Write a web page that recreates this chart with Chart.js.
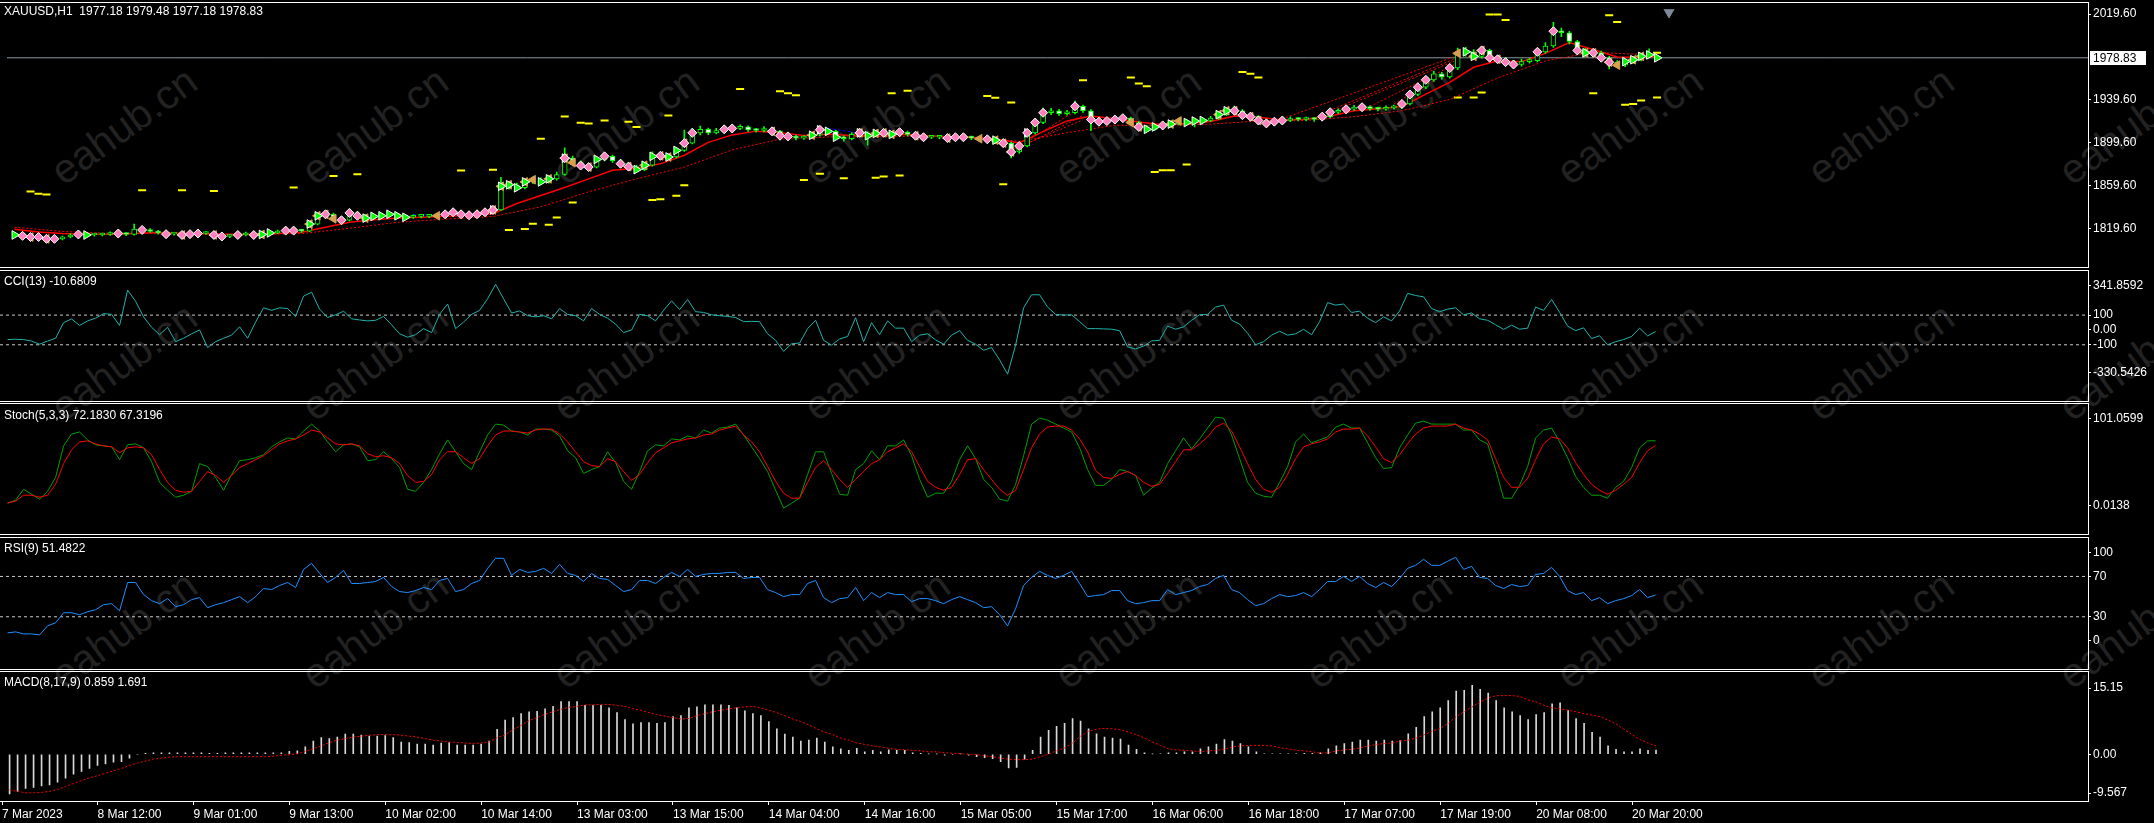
<!DOCTYPE html>
<html>
<head>
<meta charset="utf-8">
<title>XAUUSD,H1</title>
<script src="https://cdn.jsdelivr.net/npm/chart.js@4.4.1/dist/chart.umd.min.js"></script>
<style>
    html, body { margin: 0; padding: 0; background: #000; overflow: hidden; }
    #wrap { position: relative; width: 2154px; height: 823px; background: #000; font-family: "Liberation Sans", Arial, sans-serif; }
    #marks { position: absolute; left: 0; top: 0; width: 2154px; height: 823px; overflow: hidden; z-index: 0; }
    .mark { position: absolute; color: #222222; font-size: 41px; white-space: nowrap; transform: translate(-50%, -50%) rotate(-36deg); }
    canvas { position: absolute; left: 0; z-index: 1; }
    .frame { position: absolute; left: -1px; width: 2090px; border: 1px solid #fff; box-sizing: border-box; pointer-events: none; z-index: 2; }
    .title { position: absolute; left: 4px; color: #fff; font-size: 12px; line-height: 14px; white-space: pre; z-index: 3; }
</style>
</head>
<body>
<div id="wrap">
    <div id="marks"></div>

    <canvas id="main" width="2154" height="267" style="top:0px"></canvas>
    <canvas id="cci" width="2154" height="131" style="top:270px"></canvas>
    <canvas id="stoch" width="2154" height="131" style="top:403px"></canvas>
    <canvas id="rsi" width="2154" height="132" style="top:537px"></canvas>
    <canvas id="macd" width="2154" height="152" style="top:671px"></canvas>

    <div class="frame" style="top:2px;height:266px"></div>
    <div class="frame" style="top:270px;height:132px"></div>
    <div class="frame" style="top:403px;height:132px"></div>
    <div class="frame" style="top:537px;height:133px"></div>
    <div class="frame" style="top:671px;height:131px"></div>

    <div class="title" id="t-main" style="top:4px"></div>
    <div class="title" id="t-cci" style="top:274px"></div>
    <div class="title" id="t-stoch" style="top:408px"></div>
    <div class="title" id="t-rsi" style="top:541px"></div>
    <div class="title" id="t-macd" style="top:675px"></div>
</div>

<script>
// ---- datos (barra 0 = primera vela visible) ----
const opens = [1814.5,1813.7,1812.9,1811.8,1811.8,1810.1,1810.1,1811.8,1813.7,1814.2,
    1813.7,1813.7,1814.2,1815.1,1815.1,1814.2,1819.2,1818.4,1817.0,1815.6,
    1814.5,1815.1,1813.7,1814.5,1815.1,1815.6,1813.7,1812.3,1812.9,1813.7,
    1815.1,1813.7,1814.2,1815.6,1817.0,1817.8,1817.8,1817.3,1823.9,1831.6,
    1833.0,1828.8,1827.5,1834.3,1831.6,1829.4,1831.0,1831.6,1833.0,1831.6,
    1830.2,1831.0,1831.0,1831.6,1831.6,1833.0,1834.9,1833.0,1832.1,1833.0,
    1834.9,1837.1,1859.1,1860.5,1857.7,1863.2,1865.2,1863.2,1866.0,1870.1,
    1885.3,1881.1,1878.4,1877.0,1884.2,1887.0,1882.9,1880.1,1877.4,1874.6,
    1878.7,1887.0,1887.5,1886.4,1892.5,1899.3,1908.9,1912.2,1908.9,1911.1,
    1912.2,1913.0,1914.4,1911.7,1911.1,1912.2,1910.3,1906.2,1905.6,1904.0,
    1904.8,1906.7,1911.7,1910.3,1904.8,1903.4,1907.5,1908.9,1906.2,1908.4,
    1908.9,1907.5,1909.5,1907.5,1906.2,1904.8,1904.8,1904.8,1904.0,1904.8,
    1904.8,1904.0,1903.4,1902.9,1902.1,1899.3,1891.1,1896.6,1908.9,1918.5,
    1927.6,1929.5,1926.7,1927.6,1933.6,1929.5,1921.3,1919.3,1919.9,1921.3,
    1922.6,1918.5,1914.4,1912.2,1914.4,1915.8,1917.1,1919.9,1918.5,1919.9,
    1920.4,1922.6,1925.9,1929.5,1929.5,1925.4,1924.0,1920.4,1917.7,1919.3,
    1920.4,1922.1,1921.3,1922.1,1921.3,1924.0,1928.1,1929.5,1930.9,1932.8,
    1932.8,1931.4,1930.9,1932.2,1932.8,1935.8,1944.6,1951.4,1958.3,1963.8,
    1961.0,1969.3,1983.0,1984.4,1980.2,1985.7,1978.9,1977.5,1974.8,1972.6,
    1975.3,1976.1,1984.4,1989.8,2003.6,2002.2,1994.0,1985.7,1983.5,1983.5,
    1978.9,1974.8,1972.0,1975.3,1977.0,1980.2,1977.18];

const highs = [1815.8,1814.8,1813.9,1813.2,1812.9,1811.7,1812.8,1815.0,1815.6,1815.3,
    1815.0,1815.5,1816.6,1816.4,1816.0,1823.9,1820.8,1819.6,1818.1,1816.8,
    1816.3,1816.2,1815.6,1816.4,1817.0,1816.5,1814.6,1814.0,1814.9,1816.4,
    1816.0,1815.5,1816.8,1818.2,1819.0,1819.3,1818.9,1825.8,1834.5,1835.8,
    1834.2,1830.3,1837.9,1835.5,1832.7,1832.6,1833.2,1834.6,1834.1,1832.5,
    1832.4,1832.5,1833.0,1833.1,1834.4,1836.3,1835.8,1834.2,1834.5,1836.4,
    1838.6,1867.4,1863.3,1862.2,1865.5,1867.6,1866.9,1868.3,1872.4,1894.9,
    1887.2,1882.8,1880.0,1886.0,1890.5,1888.2,1884.3,1881.5,1878.6,1880.5,
    1891.2,1889.6,1889.1,1895.1,1911.5,1913.2,1915.3,1913.4,1913.0,1914.1,
    1915.2,1916.3,1915.5,1913.2,1914.8,1913.4,1911.3,1907.6,1906.9,1906.3,
    1908.6,1914.4,1913.1,1911.2,1906.1,1909.1,1912.6,1909.8,1910.3,1911.0,
    1910.2,1911.6,1910.6,1908.7,1907.4,1906.3,1906.1,1906.0,1906.2,1906.4,
    1906.0,1905.3,1904.8,1904.3,1903.2,1900.4,1898.2,1910.7,1920.5,1932.0,
    1931.7,1930.9,1929.8,1938.5,1934.8,1930.6,1922.8,1921.6,1923.1,1924.7,
    1923.7,1919.6,1915.7,1916.0,1917.6,1919.0,1922.6,1921.3,1921.7,1922.3,
    1924.3,1927.6,1931.4,1933.8,1930.6,1926.7,1925.1,1921.8,1920.9,1922.1,
    1923.8,1923.4,1923.6,1923.2,1925.7,1930.2,1931.3,1932.6,1934.5,1934.6,
    1934.0,1932.9,1934.1,1934.7,1937.9,1946.8,1953.5,1960.9,1966.5,1965.2,
    1971.6,1987.9,1988.5,1986.6,1989.2,1987.0,1980.6,1979.0,1976.4,1977.6,
    1978.3,1986.1,1993.1,2011.8,2006.5,2003.4,1995.2,1987.6,1986.2,1985.0,
    1980.1,1976.2,1977.4,1979.2,1982.6,1987.3,1979.48];

const lows = [1812.6,1811.9,1810.6,1810.4,1808.7,1808.9,1809.2,1811.0,1812.8,1812.6,
    1812.5,1812.9,1813.4,1813.9,1813.0,1813.6,1816.9,1816.0,1814.5,1813.4,
    1813.5,1812.6,1812.8,1813.6,1814.2,1812.4,1811.0,1811.2,1812.0,1812.9,
    1812.6,1812.7,1813.5,1814.9,1816.2,1816.5,1816.0,1816.8,1823.0,1829.9,
    1827.4,1825.9,1826.8,1830.2,1828.0,1828.3,1829.8,1830.5,1830.2,1828.6,
    1829.1,1829.6,1829.9,1830.2,1830.8,1832.1,1831.9,1830.9,1831.2,1832.3,
    1833.8,1836.5,1856.4,1855.3,1856.6,1861.8,1861.5,1862.0,1864.9,1869.3,
    1879.6,1876.9,1875.2,1876.1,1882.8,1881.4,1878.6,1875.9,1872.9,1873.7,
    1877.8,1885.4,1884.7,1885.5,1891.6,1898.5,1906.9,1907.1,1907.8,1909.9,
    1910.8,1911.9,1910.2,1909.6,1909.8,1908.9,1904.6,1903.9,1902.4,1902.7,
    1903.5,1905.9,1908.4,1902.6,1901.2,1902.3,1906.2,1897.5,1905.1,1906.8,
    1906.0,1906.4,1906.1,1904.8,1903.3,1903.4,1903.2,1902.6,1902.9,1903.3,
    1902.5,1901.9,1901.3,1900.6,1897.6,1885.6,1889.8,1895.7,1907.6,1917.4,
    1925.8,1925.1,1925.3,1926.6,1927.9,1911.0,1917.7,1918.0,1918.6,1919.9,
    1916.9,1912.8,1910.6,1911.1,1913.2,1914.5,1916.2,1916.9,1914.4,1918.6,
    1919.2,1921.5,1924.8,1927.6,1923.9,1922.3,1918.7,1915.2,1916.4,1918.0,
    1919.2,1919.9,1920.0,1919.6,1920.2,1923.1,1926.9,1928.2,1929.8,1931.2,
    1929.9,1929.4,1929.8,1930.9,1931.7,1934.9,1943.2,1950.0,1956.9,1959.0,
    1959.8,1967.8,1980.3,1977.8,1978.6,1976.7,1975.2,1972.5,1970.4,1971.1,
    1973.8,1975.0,1983.2,1988.5,1998.6,1991.8,1983.6,1980.3,1981.0,1976.5,
    1968.5,1969.8,1970.6,1973.9,1975.9,1978.8,1977.18];

const closes = [1813.7,1812.9,1811.8,1811.8,1810.1,1810.1,1811.8,1813.7,1814.2,1813.7,
    1813.7,1814.2,1815.1,1815.1,1814.2,1819.2,1818.4,1817.0,1815.6,1814.5,
    1815.1,1813.7,1814.5,1815.1,1815.6,1813.7,1812.3,1812.9,1813.7,1815.1,
    1813.7,1814.2,1815.6,1817.0,1817.8,1817.8,1817.3,1823.9,1831.6,1833.0,
    1828.8,1827.5,1834.3,1831.6,1829.4,1831.0,1831.6,1833.0,1831.6,1830.2,
    1831.0,1831.0,1831.6,1831.6,1833.0,1834.9,1833.0,1832.1,1833.0,1834.9,
    1837.1,1859.1,1860.5,1857.7,1863.2,1865.2,1863.2,1866.0,1870.1,1885.3,
    1881.1,1878.4,1877.0,1884.2,1887.0,1882.9,1880.1,1877.4,1874.6,1878.7,
    1887.0,1887.5,1886.4,1892.5,1899.3,1908.9,1912.2,1908.9,1911.1,1912.2,
    1913.0,1914.4,1911.7,1911.1,1912.2,1910.3,1906.2,1905.6,1904.0,1904.8,
    1906.7,1911.7,1910.3,1904.8,1903.4,1907.5,1908.9,1906.2,1908.4,1908.9,
    1907.5,1909.5,1907.5,1906.2,1904.8,1904.8,1904.8,1904.0,1904.8,1904.8,
    1904.0,1903.4,1902.9,1902.1,1899.3,1891.1,1896.6,1908.9,1918.5,1927.6,
    1929.5,1926.7,1927.6,1933.6,1929.5,1921.3,1919.3,1919.9,1921.3,1922.6,
    1918.5,1914.4,1912.2,1914.4,1915.8,1917.1,1919.9,1918.5,1919.9,1920.4,
    1922.6,1925.9,1929.5,1929.5,1925.4,1924.0,1920.4,1917.7,1919.3,1920.4,
    1922.1,1921.3,1922.1,1921.3,1924.0,1928.1,1929.5,1930.9,1932.8,1932.8,
    1931.4,1930.9,1932.2,1932.8,1935.8,1944.6,1951.4,1958.3,1963.8,1961.0,
    1969.3,1983.0,1984.4,1980.2,1985.7,1978.9,1977.5,1974.8,1972.6,1975.3,
    1976.1,1984.4,1989.8,2003.6,2002.2,1994.0,1985.7,1983.5,1983.5,1978.9,
    1974.8,1972.0,1975.3,1977.0,1980.2,1981.5,1978.83];

// medias moviles (muestras [barra, precio])
const maFast = [[0,1819],[3,1816.5],[6,1815],[9,1814.5],[12,1814.3],[15,1815.2],[18,1816],[21,1815.3],
    [24,1814.8],[27,1814.2],[30,1814.2],[33,1815],[36,1816.2],[39,1821],[42,1825.5],[45,1828],
    [48,1829.6],[51,1830.3],[54,1831.2],[57,1832.2],[60,1833.6],[63,1843],[66,1850.5],[69,1858],
    [72,1866],[75,1874],[78,1876],[81,1880],[84,1888],[87,1900],[90,1907],[93,1910.5],
    [96,1909],[99,1906.5],[102,1907.5],[105,1906.5],[108,1907],[111,1907.6],[114,1906.5],[117,1905.2],
    [120,1904.6],[123,1903.4],[126,1899.5],[129,1910],[132,1920],[135,1924.5],[138,1922],[141,1919],
    [144,1916.5],[147,1917.5],[150,1919.5],[153,1924.5],[156,1923.5],[159,1920.8],[162,1921.5],[165,1924.5],
    [168,1929.5],[171,1931.3],[174,1933.5],[177,1945],[180,1956],[183,1970],[186,1976],[189,1975.2],
    [192,1983],[195,1993],[198,1986.5],[201,1979.5],[204,1979.2],[206,1980]];
const maSlow = [[0,1821],[6,1817],[12,1815.2],[18,1815.3],[24,1815],[30,1814.5],[36,1815],[42,1820],
    [48,1825.5],[54,1828.5],[60,1831],[66,1840],[72,1854],[78,1866],[84,1877],[90,1893],
    [96,1903],[102,1905],[108,1905.5],[114,1906],[120,1905],[126,1901],[132,1909],[138,1916],
    [144,1916],[150,1917],[156,1920],[162,1920.5],[168,1924],[174,1929.5],[180,1940],[186,1960],
    [192,1976],[198,1984],[204,1982],[206,1981.5]];

// lineas de tendencia punteadas [barra1, precio1, barra2, precio2]
const fanLines = [[159,1922,181,1981],[164,1926.8,181,1979],[166,1930.9,181,1977],[170,1933.6,181,1974],
    [173,1935.8,181,1971],[125,1892,133,1929],[126,1895,134,1925],[127,1899,134,1921]];
const blueDash = [[[50,1832.6],[53,1832.2],[56,1833.4]], [[102,1913.2],[104,1910.8],[106,1908.6]]];

// niveles amarillos [barra, precio]
const yellowLevels = [[2,1854.2],[3,1852.2],[4,1851.4],[16,1855.5],[21,1855.5],[25,1854.7],[35,1858],
    [40,1868.7],[43,1870.4],[56,1873.7],[60,1874.5],[66,1903.4],[69,1924.1],[71,1918.3],[72,1917.5],
    [74,1920.5],[62,1818.4],[64,1819.2],[65,1824.2],[67,1823.3],[68,1829.9],[70,1844],
    [77,1919.3],[78,1914.4],[82,1925.1],[91,1949.8],[96,1947.6],[97,1945.7],[98,1944],[110,1945.7],
    [112,1948.1],[122,1943.2],[123,1941.6],[125,1937.2],[134,1958],[140,1960.5],[141,1955],[142,1952.3],
    [80,1846.4],[81,1846.9],[83,1850.2],[84,1860.1],[99,1865],[101,1870.8],[104,1866.7],[108,1867],
    [109,1868.3],[111,1869.1],[124,1860.9],[143,1872.4],[144,1874.1],[145,1874.1],[147,1879.3],
    [154,1965.7],[155,1964],[156,1960.5],[185,2019.2],[186,2019.2],[187,2014],[200,2018.4],[201,2012.3],
    [206,1983.5],[181,1941.8],[183,1941.8],[184,1946.5],[198,1945.7],[202,1935],[203,1935.8],
    [204,1939.1],[206,1941.8]];

// barras con flechas / senales
const pinkBars = [1,2,3,4,5,8,13,16,19,21,22,23,25,26,28,30,34,35,39,41,42,43,54,55,56,57,58,59,60,69,
    71,72,74,76,77,81,84,85,89,90,95,96,97,101,106,109,111,113,114,117,118,119,122,124,125,126,127,
    128,129,133,135,136,137,138,139,141,144,153,154,155,156,157,158,159,164,165,167,169,174,175,176,
    177,180,184,185,186,187,188,191,193,196,198,199,200];
const orangeBars = [2,4,21,25,31,37,38,39,40,44,53,60,61,62,64,65,67,69,70,72,77,79,81,82,84,95,100,
    106,108,109,110,113,117,121,123,124,125,140,141,145,146,151,152,153,155,156,181,183,184,186,197,
    198,200,201,203,204];
const greenBars = [0,9,31,32,37,38,44,45,46,47,48,49,60,61,62,63,64,66,67,69,73,78,79,80,82,83,100,101,
    102,103,106,107,108,110,123,127,142,143,145,147,148,149,151,152,182,183,197,202,203,204,205,206];
const shiftMark = [207.5, 2021.6];

const cci = [-65,-63,-65,-75,-96,-75,-56,49,74,30,
    61,79,110,105,30,268,193,88,18,-32,
    18,-79,-56,-26,0,-119,-79,-56,-35,21,
    -56,53,149,132,149,144,91,228,254,140,
    84,102,126,75,67,61,65,91,35,-26,
    -49,-32,9,-18,105,175,9,53,105,132,
    210,307,210,114,128,96,88,96,75,144,
    105,96,61,144,105,79,39,-18,0,105,
    96,61,132,196,137,205,123,118,102,96,
    91,84,56,58,56,-26,-70,-144,-93,-88,
    9,65,-70,-102,-61,-44,82,-79,49,-32,
    61,12,12,-79,-35,-26,-67,-96,-35,-5,
    -70,-96,-137,-119,-202,-298,-102,149,237,237,
    154,105,100,102,56,9,9,7,5,-5,
    -114,-128,-109,-74,-70,26,5,21,65,102,
    105,154,167,65,40,-23,-100,-79,-35,-9,
    -35,-26,4,-32,56,184,167,175,118,126,
    79,49,88,61,128,246,232,223,144,123,
    140,149,102,114,75,65,35,4,32,5,
    12,154,132,205,119,26,-5,14,-58,-39,
    -100,-79,-65,-44,12,-40,-10.6809];
const cciLevels = [100, -100];

const stochMain = [9,12,23,18,13,21,35,67,79,81,
    73,68,67,66,53,68,69,65,51,30,
    22,15,17,21,49,46,35,22,38,52,
    53,55,58,66,71,75,74,82,89,82,
    71,61,68,69,66,52,53,61,54,45,
    23,21,30,43,59,73,61,49,43,61,
    78,89,88,82,81,78,84,84,83,77,
    62,55,39,43,46,61,50,31,23,41,
    62,68,67,74,73,77,75,83,80,85,
    86,89,78,66,54,41,22,4,9,14,
    38,61,61,39,18,17,43,49,62,53,
    67,67,73,57,33,15,19,19,31,53,
    67,54,33,25,13,11,28,57,89,95,
    93,89,85,81,65,43,27,27,33,43,
    41,37,17,24,30,49,62,75,64,74,
    85,96,95,78,54,30,19,16,15,30,
    46,71,79,70,73,76,86,89,85,85,
    70,55,44,45,65,78,90,92,89,89,
    89,89,83,83,73,69,43,14,14,27,
    46,75,83,85,71,55,36,25,17,17,
    14,25,31,45,65,72,72.183];
const stochSignal = [9,11,17,17,15,17,28,49,63,71,
    72,69,67,66,60,65,66,65,58,43,
    30,22,20,21,31,41,37,30,37,45,
    49,53,57,63,69,72,74,78,83,81,
    75,69,68,69,67,59,56,57,55,49,
    37,30,31,38,53,61,61,55,49,54,
    67,78,82,82,81,80,83,84,84,79,
    71,61,51,47,46,54,51,41,32,38,
    50,60,65,70,72,74,75,78,79,83,
    85,87,78,71,61,46,31,19,14,14,
    30,45,52,43,33,25,33,41,49,53,
    61,65,69,61,46,31,25,22,25,38,
    53,54,43,33,23,17,22,43,65,79,
    86,87,87,83,74,61,42,35,34,38,
    41,37,30,26,28,39,51,63,63,69,
    76,86,90,82,66,49,33,23,20,25,
    38,54,66,69,71,74,81,84,84,85,
    77,66,54,50,58,69,79,85,87,87,
    87,89,85,83,79,73,54,35,25,25,
    34,53,69,76,74,65,50,38,28,22,
    18,22,28,35,50,62,67.3196];

const rsi = [14,15,13,13,12,21,24,34,34,32,
    35,37,42,43,36,64,64,52,46,43,
    48,40,42,47,49,39,42,44,47,50,
    44,50,58,57,61,64,59,77,83,73,
    64,69,76,63,63,64,65,69,60,55,
    54,56,59,57,66,68,55,57,63,66,
    78,88,88,71,77,74,75,78,73,82,
    73,71,65,73,68,67,61,55,57,66,
    66,63,69,74,70,77,70,72,73,73,
    74,74,68,69,69,57,54,50,52,52,
    63,66,49,44,48,49,59,46,54,49,
    54,52,52,45,48,48,46,43,47,50,
    47,44,39,40,32,21,38,61,69,75,
    71,68,71,75,63,50,51,52,56,56,
    46,43,44,46,46,57,52,54,56,60,
    62,68,71,57,54,47,41,43,48,52,
    50,51,54,50,57,65,65,70,65,70,
    63,59,64,60,68,78,81,87,81,81,
    85,89,77,80,69,68,61,58,62,60,
    61,72,73,79,70,56,52,54,46,49,
    43,46,48,51,57,49,51.4822];
const rsiLevels = [70, 30];

const macdHist = [-8.1,-7.6,-7.0,-6.8,-6.5,-6.3,-5.7,-4.9,-4.1,-3.5,
    -2.9,-2.3,-2.0,-1.6,-1.5,-0.8,-0.1,0.2,0.3,0.3,
    0.3,0.3,0.3,0.3,0.3,0.2,0.2,0.3,0.3,0.3,
    0.3,0.3,0.3,0.3,0.3,0.6,0.7,1.5,2.7,3.4,
    3.2,3.5,4.1,4.1,3.9,3.7,3.7,3.8,3.4,2.5,
    2.4,2.1,2.1,1.9,2.3,2.4,1.9,1.9,1.9,2.1,
    2.7,5.1,7.0,7.5,8.3,8.7,8.8,9.3,9.8,10.8,
    10.8,10.8,10.0,10.0,10.0,9.5,8.5,7.1,6.2,6.5,
    6.5,6.3,6.5,7.7,7.9,9.5,9.7,10.1,10.1,10.1,
    10.0,9.5,8.9,8.3,7.9,6.7,5.2,4.1,3.5,2.7,
    2.9,3.3,2.5,1.5,1.1,0.8,1.2,0.5,0.8,0.5,
    0.9,0.8,0.8,0.3,0.2,0.05,0.05,-0.2,-0.1,0.05,
    -0.2,-0.5,-0.7,-0.9,-1.5,-2.8,-2.7,-1.0,0.8,3.5,
    4.9,5.7,6.3,7.3,6.8,5.2,4.2,3.5,3.3,3.1,
    1.9,1.0,0.3,0.05,0.1,0.3,0.3,0.5,0.5,1.1,
    1.5,2.1,3.0,2.7,2.2,1.5,0.5,0.1,0.1,0.1,
    0.1,0.1,0.2,0.2,0.3,1.1,1.7,2.2,2.5,2.9,
    2.9,2.7,2.9,2.7,2.8,4.2,5.5,7.7,8.7,9.5,
    11.0,12.9,13.1,14.1,13.3,12.5,11.0,9.5,8.7,7.9,
    7.1,8.1,8.5,10.3,10.5,9.0,7.3,6.3,4.5,3.5,
    1.7,1.0,0.5,0.5,1.1,0.8,0.859];
const macdSignal = [-7.3,-7.6,-7.9,-7.9,-7.8,-7.6,-7.2,-6.6,-6.0,-5.4,
    -4.8,-4.4,-3.9,-3.4,-2.9,-2.3,-1.8,-1.4,-1.0,-0.8,
    -0.6,-0.5,-0.5,-0.5,-0.5,-0.5,-0.5,-0.5,-0.5,-0.5,
    -0.5,-0.5,-0.5,-0.4,-0.2,-0.1,0.1,0.6,1.1,1.7,
    2.4,2.9,3.2,3.5,3.7,3.9,4.0,4.0,4.0,3.9,
    3.7,3.5,3.2,2.9,2.7,2.5,2.4,2.3,2.2,2.3,
    2.5,3.4,4.0,5.0,5.9,6.9,7.5,8.2,8.7,9.2,
    9.6,9.8,10.1,10.1,10.2,10.2,10.0,9.8,9.3,9.0,
    8.5,8.1,7.8,7.5,7.2,7.3,7.9,8.3,8.7,9.0,
    9.3,9.5,9.7,9.8,9.5,9.0,8.5,7.9,7.2,6.7,
    6.0,5.2,4.5,4.0,3.3,2.9,2.3,2.0,1.7,1.5,
    1.2,1.0,0.9,0.8,0.7,0.5,0.5,0.3,0.2,0.1,
    0,-0.1,-0.3,-0.5,-0.8,-1.0,-1.1,-1.1,-1.0,-0.5,
    0,0.7,1.3,2.3,3.7,4.7,5.1,5.3,5.2,5.0,
    4.5,4.0,3.3,2.5,1.8,1.1,0.9,0.8,0.7,0.5,
    0.7,0.8,1.0,1.5,1.7,1.8,1.8,1.8,1.7,1.3,
    1.1,0.8,0.7,0.5,0.2,0.3,0.7,0.9,1.0,1.3,
    1.7,2.0,2.2,2.3,2.7,2.9,3.3,4.0,4.7,5.3,
    6.3,7.7,8.7,9.7,10.7,11.5,12.0,12.0,12.0,11.8,
    11.1,10.7,10.0,9.5,9.3,9.0,8.7,8.3,8.0,7.7,
    7.0,6.2,5.1,4.0,3.0,2.3,1.691];

// etiquetas de ejes
const xTickBars = [-0.95, 11, 23, 35, 47, 59, 71, 83, 95, 107, 119, 131, 143, 155, 167, 179, 191, 203];
const xTickLabels = ['7 Mar 2023', '8 Mar 12:00', '9 Mar 01:00', '9 Mar 13:00', '10 Mar 02:00', '10 Mar 14:00',
    '13 Mar 03:00', '13 Mar 15:00', '14 Mar 04:00', '14 Mar 16:00', '15 Mar 05:00', '15 Mar 17:00',
    '16 Mar 06:00', '16 Mar 18:00', '17 Mar 07:00', '17 Mar 19:00', '20 Mar 08:00', '20 Mar 20:00'];
const priceTicks = [2019.60, 1939.60, 1899.60, 1859.60, 1819.60];
const priceTickText = ['2019.60', '1939.60', '1899.60', '1859.60', '1819.60'];
const cciTicks = [341.8592, 100, 0, -100, -330.5426];
const cciTickText = ['341.8592', '100', '0.00', '-100', '-330.5426'];
const stochTicks = [101.0599, 0.0138];
const stochTickText = ['101.0599', '0.0138'];
const rsiTicks = [100, 70, 30, 0];
const rsiTickText = ['100', '70', '30', '0'];
const macdTicks = [15.15, 0, -9.567];
const macdTickText = ['15.15', '0.00', '-9.567'];

const xMin = -0.95;
const xMax = 260.05;
const FONT = '"Liberation Sans", Arial, sans-serif';

document.addEventListener('DOMContentLoaded', () => {
    Chart.defaults.font.family = FONT;
    Chart.defaults.font.size = 12;

    const last = closes.length - 1;
    const lastPrice = closes[last];

    document.getElementById('t-main').textContent =
        `XAUUSD,H1  ${opens[last].toFixed(2)} ${highs[last].toFixed(2)} ${lows[last].toFixed(2)} ${closes[last].toFixed(2)}`;
    document.getElementById('t-cci').textContent = `CCI(13) ${cci[last].toFixed(4)}`;
    document.getElementById('t-stoch').textContent =
        `Stoch(5,3,3) ${stochMain[last].toFixed(4)} ${stochSignal[last].toFixed(4)}`;
    document.getElementById('t-rsi').textContent = `RSI(9) ${rsi[last].toFixed(4)}`;
    document.getElementById('t-macd').textContent =
        `MACD(8,17,9) ${macdHist[last].toFixed(3)} ${macdSignal[last].toFixed(3)}`;

    // marca de agua
    const marks = document.getElementById('marks');
    [126, 362, 630].forEach(top => {
        for (let k = 0; k < 9; k++) {
            const m = document.createElement('div');
            m.className = 'mark';
            m.textContent = 'eahub.cn';
            m.style.left = (124 + 251 * k) + 'px';
            m.style.top = top + 'px';
            marks.appendChild(m);
        }
    });

    const seriesPoints = values => values.map((v, i) => ({ x: i, y: v }));
    const pairPoints = pairs => pairs.map(p => ({ x: p[0], y: p[1] }));
    const flatLine = y => [{ x: xMin, y }, { x: xMax, y }];
    const barPoints = list => list.map(i => ({ x: i, y: closes[i] }));

    function xAxis(show) {
        return {
            type: 'linear', min: xMin, max: xMax, bounds: 'data', display: show, offset: false,
            afterBuildTicks: s => { s.ticks = xTickBars.map(v => ({ value: v })); },
            afterFit: s => { s.height = 22; },
            ticks: { color: '#fff', align: 'start', maxRotation: 0, minRotation: 0, autoSkip: false, padding: 2,
                callback: (v, i) => xTickLabels[i] },
            grid: { drawOnChartArea: false, drawTicks: true, tickLength: 4, color: '#fff', offset: false },
            border: { display: false }
        };
    }

    function yAxis(min, max, values, texts, areaH) {
        const inset = 8.5 * (max - min) / areaH;
        return {
            type: 'linear', position: 'right', min, max, bounds: 'data', beginAtZero: false,
            afterFit: s => { s.width = 66; },
            afterBuildTicks: s => {
                s.ticks = values.map(v => ({ value: v >= max ? max - inset : (v <= min ? min + inset : v) }));
            },
            ticks: { color: '#fff', padding: 2, autoSkip: false, callback: (v, i) => texts[i] },
            grid: { drawOnChartArea: false, drawTicks: true, tickLength: 3, color: '#fff' },
            border: { display: false }
        };
    }

    function makePane(id, datasets, yScale, showX, plugins) {
        return new Chart(document.getElementById(id), {
            type: 'line',
            data: { datasets },
            options: {
                responsive: false, animation: false, devicePixelRatio: 1, events: [],
                layout: { padding: 0 },
                plugins: { legend: { display: false }, tooltip: { enabled: false } },
                elements: { point: { radius: 0 }, line: { borderWidth: 1, tension: 0 } },
                scales: { x: xAxis(showX), y: yScale }
            },
            plugins: plugins || []
        });
    }

    const line = (data, color, extra) => Object.assign({ data, borderColor: color, borderWidth: 1, pointRadius: 0, fill: false }, extra || {});
    const levelLine = v => line(flatLine(v), '#c8c8c8', { borderDash: [3, 3], order: 20 });

    // cuadro con el ultimo precio en el eje
    const lastPriceBox = {
        id: 'lastPriceBox',
        afterDraw(chart) {
            const { ctx, chartArea } = chart;
            const y = Math.round(chart.scales.y.getPixelForValue(lastPrice));
            ctx.save();
            ctx.fillStyle = '#fff';
            ctx.fillRect(chartArea.right + 2, y - 7, 56, 14);
            ctx.fillStyle = '#000';
            ctx.font = '12px ' + FONT;
            ctx.textBaseline = 'middle';
            ctx.fillText(lastPrice.toFixed(2), chartArea.right + 5, y + 0.5);
            ctx.restore();
        }
    };

    // ---- ventana principal ----
    const mainSets = [
        line(flatLine(lastPrice), '#8c96a0', { order: 30 }),
        {
            type: 'line', data: pairPoints(yellowLevels), showLine: false, pointStyle: 'line',
            pointRadius: 4, pointBorderColor: '#ffff00', pointBorderWidth: 2, order: 25
        },
        line(pairPoints(maSlow), '#ff0000', { borderDash: [2, 2], order: 22 }),
        line(pairPoints(maFast), '#ff0000', { borderWidth: 1.5, order: 21 })
    ];
    fanLines.forEach(f => {
        mainSets.push(line([{ x: f[0], y: f[1] }, { x: f[2], y: f[3] }], '#ff0000', { borderDash: [2, 2], order: 22 }));
    });
    blueDash.forEach(b => mainSets.push(line(pairPoints(b), '#0000ff', { borderDash: [3, 2], order: 22 })));
    mainSets.push(
        {
            type: 'bar', data: lows.map((l, i) => ({ x: i, y: [l, highs[i]] })),
            backgroundColor: '#00ff00', barThickness: 1, grouped: false, order: 12
        },
        {
            type: 'bar', data: opens.map((o, i) => ({ x: i, y: [o, closes[i]] })),
            backgroundColor: c => closes[c.dataIndex] >= opens[c.dataIndex] ? '#000' : '#fff',
            borderColor: '#00ff00', borderWidth: 1, borderSkipped: false, barThickness: 5,
            minBarLength: 2, grouped: false, order: 11
        },
        {
            type: 'line', data: barPoints(orangeBars), showLine: false, pointStyle: 'triangle', pointRotation: -90,
            pointRadius: 5, pointBackgroundColor: '#d9a050', pointBorderColor: '#d9a050', pointBorderWidth: 1, order: 4
        },
        {
            type: 'line', data: barPoints(greenBars), showLine: false, pointStyle: 'triangle', pointRotation: 90,
            pointRadius: 5, pointBackgroundColor: '#00ff00', pointBorderColor: '#ffffff', pointBorderWidth: 1, order: 3
        },
        {
            type: 'line', data: barPoints(pinkBars), showLine: false, pointStyle: 'rectRot',
            pointRadius: 4.5, pointBackgroundColor: '#ff7fbf', pointBorderColor: '#ffffff', pointBorderWidth: 1, order: 2
        },
        {
            type: 'line', data: [{ x: shiftMark[0], y: shiftMark[1] }], showLine: false, pointStyle: 'triangle',
            pointRotation: 180, pointRadius: 6, pointBackgroundColor: '#7f8a99', pointBorderColor: '#7f8a99', order: 1
        }
    );
    makePane('main', mainSets, yAxis(1804.38, 2024.13, priceTicks, priceTickText, 267), false, [lastPriceBox]);

    // ---- CCI ----
    makePane('cci', [
        ...cciLevels.map(levelLine),
        line(seriesPoints(cci), '#20b2aa', { order: 1 })
    ], yAxis(-330.5426, 341.8592, cciTicks, cciTickText, 131), false);

    // ---- Estocastico ----
    makePane('stoch', [
        line(seriesPoints(stochSignal), '#ff0000', { order: 1 }),
        line(seriesPoints(stochMain), '#00a000', { order: 2 })
    ], yAxis(0.0138, 101.0599, stochTicks, stochTickText, 131), false);

    // ---- RSI ----
    makePane('rsi', [
        ...rsiLevels.map(levelLine),
        line(seriesPoints(rsi), '#1e90ff', { order: 1 })
    ], yAxis(0, 100, rsiTicks, rsiTickText, 132), false);

    // ---- MACD ----
    makePane('macd', [
        {
            type: 'bar', data: seriesPoints(macdHist), backgroundColor: '#d8d8d8',
            barThickness: 1, grouped: false, order: 2
        },
        line(seriesPoints(macdSignal), '#ff0000', { borderDash: [2, 2], order: 1 })
    ], yAxis(-9.567, 15.15, macdTicks, macdTickText, 130), true);
});
</script>
</body>
</html>
